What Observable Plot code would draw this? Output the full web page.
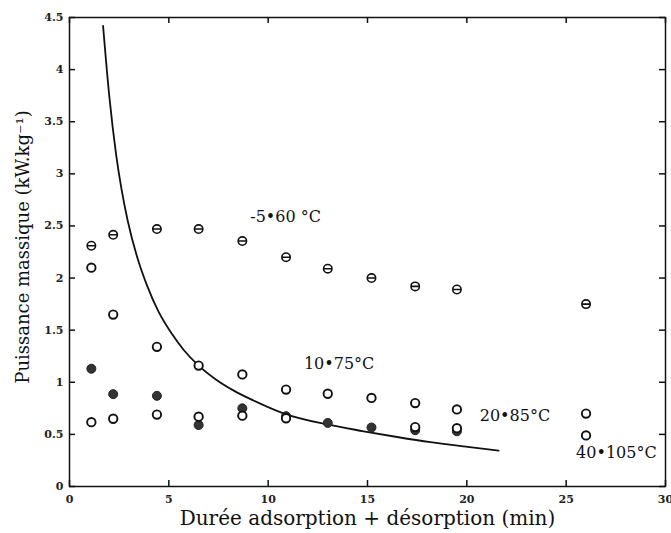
<!DOCTYPE html>
<html><head><meta charset="utf-8">
<script src="https://cdn.jsdelivr.net/npm/d3@7"></script>
<script src="https://cdn.jsdelivr.net/npm/@observablehq/plot@0.6"></script>
<style>body{margin:0;background:#fff}</style>
</head><body><div id="chart"></div>
<script>
// ---- data ----
const xTicks = [0, 5, 10, 15, 20, 25, 30];
const yTicks = [0, 0.5, 1, 1.5, 2, 2.5, 3, 3.5, 4, 4.5];

// -5 • 60 °C (circles with a bar)
const s1x = [1.1, 2.2, 4.4, 6.5, 8.7, 10.9, 13.0, 15.2, 17.4, 19.5, 26.0];
const s1y = [2.31, 2.415, 2.47, 2.47, 2.355, 2.20, 2.09, 2.00, 1.92, 1.89, 1.75];
// 10 • 75 °C (open circles)
const s2x = [1.1, 2.2, 4.4, 6.5, 8.7, 10.9, 13.0, 15.2, 17.4, 19.5, 26.0];
const s2y = [2.10, 1.65, 1.34, 1.16, 1.075, 0.93, 0.89, 0.85, 0.80, 0.74, 0.70];
// 20 • 85 °C (filled circles)
const s3x = [1.1, 2.2, 4.4, 6.5, 8.7, 10.9, 13.0, 15.2, 17.4, 19.5];
const s3y = [1.13, 0.886, 0.87, 0.59, 0.75, 0.675, 0.61, 0.566, 0.54, 0.53];
// 40 • 105 °C (open circles)
const s4x = [1.1, 2.2, 4.4, 6.5, 8.7, 10.9, 17.4, 19.5, 26.0];
const s4y = [0.617, 0.65, 0.69, 0.67, 0.68, 0.655, 0.57, 0.56, 0.49];

// fitted curve, points
const curveX = [1.69, 2.0, 2.35, 2.62, 2.93, 3.44, 3.9, 4.5, 5.17, 5.75, 6.5, 7.35, 8.27, 9.26, 10.8, 12.97, 14.81, 16.49, 18.17, 19.84, 21.6];
const curveY = [4.42, 3.75, 3.18, 2.85, 2.55, 2.18, 1.93, 1.67, 1.46, 1.31, 1.16, 1.03, 0.92, 0.825, 0.70, 0.595, 0.53, 0.475, 0.425, 0.384, 0.345];

// in-plot labels
const labelText = ["-5\u202260 \u00B0C", "10\u202275\u00B0C", "20\u202285\u00B0C", "40\u2022105\u00B0C"];
const labelX = [9.1, 11.8, 20.65, 25.5];
const labelY = [2.585, 1.18, 0.68, 0.32];

const xLabel = "Durée adsorption + désorption (min)";
const yLabel = "Puissance massique (kW.kg\u207B\u00B9)";

// ---- build ----
const pts = (xs, ys) => xs.map((x, i) => ({x, y: ys[i]}));
const thetaSymbol = {
  draw(ctx, size) {
    const r = Math.sqrt(size / Math.PI);
    ctx.moveTo(r, 0);
    ctx.arc(0, 0, r, 0, 2 * Math.PI);
    ctx.moveTo(-r, 0);
    ctx.lineTo(r, 0);
  }
};
const labels = labelText.map((t, i) => ({t, x: labelX[i], y: labelY[i]}));
const ink = "#111";
const W = 671, H = 533, mL = 69, mR = 6, mT = 17, mB = 47;
const fw = W - mL - mR, fh = H - mT - mB, tk = 6;

const chart = Plot.plot({
  width: W,
  height: H,
  marginLeft: mL,
  marginRight: mR,
  marginTop: mT,
  marginBottom: mB,
  x: {domain: [0, 30]},
  y: {domain: [0, 4.5]},
  style: {fontFamily: "'DejaVu Serif', serif", background: "#fff", color: ink},
  marks: [
    Plot.frame({stroke: ink, strokeWidth: 1.5}),
    // inward tick marks on all four sides
    Plot.ruleX(xTicks, {x: d => d, insetTop: fh - tk, stroke: ink, strokeWidth: 1.5}),
    Plot.ruleX(xTicks, {x: d => d, insetBottom: fh - tk, stroke: ink, strokeWidth: 1.5}),
    Plot.ruleY(yTicks, {y: d => d, insetRight: fw - tk, stroke: ink, strokeWidth: 1.5}),
    Plot.ruleY(yTicks, {y: d => d, insetLeft: fw - tk, stroke: ink, strokeWidth: 1.5}),
    Plot.axisX(xTicks, {anchor: "bottom", label: null, tickSize: 0, tickPadding: 9, tickFormat: d => String(d), fontSize: 11, fontWeight: "bold", fill: "#222"}),
    Plot.axisY(yTicks, {anchor: "left", label: null, tickSize: 0, tickPadding: 6, tickFormat: d => String(d), fontSize: 11, fontWeight: "bold", fill: "#222"}),
    Plot.text([xLabel], {frameAnchor: "bottom", textAnchor: "middle", lineAnchor: "middle", dy: 32, fontSize: 20, fill: ink}),
    Plot.text([yLabel], {frameAnchor: "left", textAnchor: "middle", lineAnchor: "middle", dx: -46, dy: -5, rotate: -90, fontSize: 18, fill: ink}),
    Plot.line(pts(curveX, curveY), {x: "x", y: "y", curve: "monotone-x", stroke: ink, strokeWidth: 1.8}),
    Plot.dot(pts(s1x, s1y), {x: "x", y: "y", symbol: thetaSymbol, r: 4.2, stroke: ink, fill: "white", strokeWidth: 1.6}),
    Plot.dot(pts(s3x, s3y), {x: "x", y: "y", r: 4.5, stroke: "#222", fill: "#333", strokeWidth: 1}),
    Plot.dot(pts(s2x, s2y), {x: "x", y: "y", r: 4.2, stroke: ink, fill: "white", strokeWidth: 1.9}),
    Plot.dot(pts(s4x, s4y), {x: "x", y: "y", r: 4.2, stroke: ink, fill: "white", strokeWidth: 1.9}),
    Plot.text(labels, {x: "x", y: "y", text: "t", textAnchor: "start", fontSize: 16, fill: ink})
  ]
});
document.getElementById("chart").appendChild(chart);
</script>
</body></html>
